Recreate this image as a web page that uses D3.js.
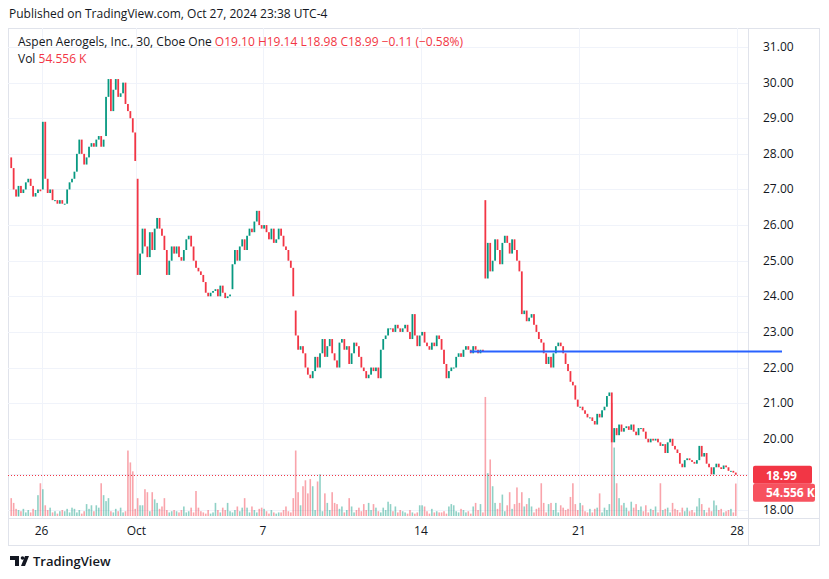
<!DOCTYPE html>
<html>
<head>
<meta charset="utf-8">
<script src="https://cdn.jsdelivr.net/npm/d3@7"></script>
<style>
  body { margin: 0; background: #fff; font-family: "Open Sans", "Noto Sans", sans-serif; }
</style>
</head>
<body>
<svg id="chart" width="829" height="579"></svg>
<script>
// trading days shown (30 min bars, 13 per day)
const days = ['09-25', '09-26', '09-27', '09-30', '10-01', '10-02', '10-03', '10-04', '10-07', '10-08', '10-09', '10-10',
    '10-11', '10-14', '10-15', '10-16', '10-17', '10-18', '10-21', '10-22', '10-23', '10-24', '10-25']

// opening price of each day's first bar (null = previous close)
const dayOpens = [27.9, 27.0, null, 28.5, 27.3, null, null, 24.2, null, 23.6, null, null,
    null, null, null, 26.7, null, null, null, 21.3, null, null, null]

// closing prices per day
const closes = [
    [27.6, 27.0, 26.8, 27.1, 26.9, 27.0, 27.2, 27.3, 27.1, 26.8, 26.9, 27.0, 26.95],
    [28.9, 27.3, 26.9, 27.0, 26.7, 26.7, 26.6, 26.7, 26.6, 26.6, 27.0, 27.2, 27.3],
    [27.5, 28.0, 28.4, 28.0, 27.7, 27.9, 28.2, 28.3, 28.2, 28.4, 28.5, 28.2, 28.4],
    [29.6, 30.1, 29.2, 29.8, 30.1, 29.6, 29.7, 30.0, 29.4, 29.2, 29.0, 28.6, 27.8],
    [24.6, 25.2, 25.9, 25.4, 25.1, 25.8, 25.3, 25.9, 26.2, 25.9, 25.7, 25.3, 24.6],
    [25.0, 25.4, 25.2, 25.4, 25.1, 25.0, 25.3, 25.6, 25.7, 25.4, 25.0, 24.8, 24.7],
    [24.6, 24.4, 24.1, 24.0, 24.1, 24.15, 24.2, 24.0, 24.3, 24.1, 23.95, 24.0, 24.05],
    [24.9, 25.3, 25.0, 25.4, 25.6, 25.3, 25.7, 25.9, 25.8, 26.1, 26.4, 26.0, 25.9],
    [26.0, 25.8, 25.6, 25.9, 25.5, 25.6, 25.9, 25.7, 25.4, 25.3, 25.0, 24.8, 24.0],
    [22.9, 22.5, 22.6, 22.4, 22.0, 21.8, 21.7, 21.9, 22.3, 22.0, 22.4, 22.8, 22.3],
    [22.6, 22.8, 22.4, 22.2, 22.0, 22.7, 22.8, 22.5, 22.6, 22.1, 22.4, 22.7, 22.6],
    [22.3, 22.0, 21.9, 21.7, 21.8, 22.0, 21.9, 22.0, 21.7, 22.5, 22.8, 22.9, 23.1],
    [23.1, 23.0, 23.2, 23.1, 23.0, 23.1, 23.2, 23.0, 22.8, 23.5, 22.9, 22.6, 22.9],
    [23.0, 22.7, 22.6, 22.5, 22.7, 22.6, 22.9, 22.8, 22.5, 22.1, 21.7, 21.9, 22.0],
    [22.0, 22.3, 22.4, 22.3, 22.5, 22.6, 22.5, 22.4, 22.6, 22.5, 22.4, 22.5, 22.45],
    [24.5, 25.5, 24.7, 25.0, 25.6, 25.3, 24.9, 25.5, 25.7, 25.5, 25.2, 25.6, 25.3],
    [25.0, 24.7, 23.5, 23.6, 23.3, 23.4, 23.5, 23.2, 23.0, 22.8, 22.7, 22.4, 22.1],
    [22.3, 22.0, 22.4, 22.6, 22.7, 22.6, 22.4, 22.1, 21.9, 21.6, 21.5, 21.1, 20.9],
    [20.9, 20.8, 20.7, 20.6, 20.6, 20.5, 20.4, 20.7, 20.6, 20.8, 20.9, 21.2, 21.3],
    [19.9, 20.3, 20.1, 20.4, 20.2, 20.3, 20.35, 20.25, 20.4, 20.2, 20.1, 20.3, 20.3],
    [20.2, 20.0, 19.9, 20.0, 19.95, 20.0, 19.9, 19.8, 19.85, 19.6, 19.9, 20.0, 19.8],
    [19.7, 19.6, 19.3, 19.2, 19.4, 19.45, 19.4, 19.35, 19.3, 19.4, 19.8, 19.5, 19.6],
    [19.3, 19.2, 19.0, 19.2, 19.3, 19.2, 19.15, 19.25, 19.2, 19.1, 19.1, 19.05, 18.99]
]

// volume per bar, thousands
const volumes = [
    [30, 22, 12, 10, 8, 12, 6, 10, 6, 12, 10, 35, 55],
    [45, 18, 10, 14, 6, 8, 4, 8, 10, 8, 12, 6, 14],
    [12, 6, 10, 4, 8, 20, 12, 18, 8, 18, 14, 55, 35],
    [25, 30, 8, 6, 12, 8, 14, 6, 8, 110, 90, 75, 12],
    [30, 18, 18, 45, 40, 8, 40, 28, 22, 12, 16, 30, 10],
    [6, 8, 10, 8, 6, 10, 16, 6, 8, 14, 6, 42, 14],
    [8, 6, 4, 10, 4, 6, 22, 10, 6, 14, 10, 22, 8],
    [6, 10, 16, 8, 14, 30, 14, 6, 16, 10, 6, 12, 14],
    [12, 8, 4, 10, 6, 4, 6, 6, 10, 16, 8, 6, 30],
    [110, 40, 18, 50, 60, 38, 62, 50, 10, 58, 70, 8, 38],
    [22, 10, 40, 22, 20, 12, 16, 6, 10, 30, 16, 6, 10],
    [14, 8, 20, 10, 22, 10, 20, 14, 8, 6, 14, 10, 24],
    [20, 8, 16, 6, 10, 8, 6, 4, 10, 6, 4, 6, 18],
    [18, 16, 8, 4, 12, 6, 8, 6, 6, 8, 4, 16, 20],
    [18, 8, 6, 12, 10, 6, 8, 4, 16, 22, 10, 20, 6],
    [200, 72, 95, 50, 22, 12, 22, 36, 8, 18, 40, 12, 20],
    [48, 22, 40, 16, 20, 30, 16, 6, 12, 14, 55, 22, 6],
    [20, 22, 10, 22, 6, 18, 14, 10, 12, 32, 55, 20, 10],
    [22, 18, 8, 6, 12, 6, 12, 14, 38, 6, 14, 10, 20],
    [190, 115, 55, 30, 18, 22, 14, 8, 24, 14, 20, 10, 16],
    [8, 18, 6, 12, 10, 16, 6, 55, 10, 12, 14, 6, 22],
    [12, 10, 6, 14, 8, 14, 8, 10, 6, 16, 30, 20, 10],
    [6, 14, 8, 26, 18, 10, 12, 6, 8, 10, 12, 6, 54.556]
]

const tickDays = [['09-26', '26'], ['10-01', 'Oct'], ['10-07', '7'], ['10-14', '14'], ['10-21', '21']]
const priceTicks = d3.range(18, 31.5, 1)
const hlinePrice = 22.45
const hlineStartDay = '10-15'

const svg = d3.select('#chart')
const plot = { left: 8, right: 748, top: 28, bottom: 518 }

const xDay = d3.scaleBand().domain(days).range([10, 737])
const yScale = d3.scaleLinear().domain([18, 31]).range([510, 47])
const yVol = d3.scaleLinear().domain([0, 210]).range([516, 391])

// flatten bars
const bars = []
days.forEach((d, i) => {
    closes[i].forEach((c, j) => {
        let open = bars.length ? bars[bars.length - 1].close : c
        if (j === 0 && dayOpens[i] !== null) open = dayOpens[i]
        bars.push({
            day: d, j, close: c, open, vol: volumes[i][j],
            x: xDay(d) + (j + 0.5) * xDay.bandwidth() / 13
        })
    })
})
const last = bars[bars.length - 1]

//frame
svg.append('rect').attr('x', 8.5).attr('y', 28.5).attr('width', 811).attr('height', 517)
    .attr('fill', 'none').attr('stroke', '#e0e3eb')

//grid
svg.append('g').selectAll('line').data(priceTicks).enter().append('line')
    .attr('x1', plot.left).attr('x2', plot.right)
    .attr('y1', (d) => Math.round(yScale(d)) + 0.5).attr('y2', (d) => Math.round(yScale(d)) + 0.5)
    .attr('stroke', '#f0f3fa')
const tickX = tickDays.map((t) => ({ x: xDay(t[0]), label: t[1] }))
tickX.push({ x: xDay.range()[1], label: '28' })
svg.append('g').selectAll('line').data(tickX).enter().append('line')
    .attr('x1', (d) => Math.round(d.x) + 0.5).attr('x2', (d) => Math.round(d.x) + 0.5)
    .attr('y1', plot.top).attr('y2', plot.bottom)
    .attr('stroke', '#f0f3fa')

//axis separators
svg.append('line').attr('x1', plot.right + 0.5).attr('x2', plot.right + 0.5).attr('y1', 28).attr('y2', 545).attr('stroke', '#e0e3eb')
svg.append('line').attr('x1', 8).attr('x2', 820).attr('y1', plot.bottom + 0.5).attr('y2', plot.bottom + 0.5).attr('stroke', '#e0e3eb')

//volume
svg.append('g').selectAll('rect').data(bars).enter().append('rect')
    .attr('x', (d) => d.x - 0.8).attr('width', 1.6)
    .attr('y', (d) => yVol(d.vol)).attr('height', (d) => yVol(0) - yVol(d.vol))
    .attr('fill', (d) => d.close >= d.open ? 'rgba(8,153,129,0.45)' : 'rgba(242,54,69,0.45)')

//candles
svg.append('g').selectAll('rect').data(bars).enter().append('rect')
    .attr('x', (d) => d.x - 0.9).attr('width', 1.8)
    .attr('y', (d) => yScale(Math.max(d.open, d.close)))
    .attr('height', (d) => Math.max(1, Math.abs(yScale(d.open) - yScale(d.close))))
    .attr('fill', (d) => d.close >= d.open ? '#089981' : '#f23645')

//horizontal line
svg.append('line').attr('x1', xDay(hlineStartDay) + xDay.bandwidth() * 0.55).attr('x2', 782)
    .attr('y1', yScale(hlinePrice)).attr('y2', yScale(hlinePrice))
    .attr('stroke', '#2962ff').attr('stroke-width', 2)

//last price dotted line
svg.append('line').attr('x1', plot.left).attr('x2', plot.right)
    .attr('y1', Math.round(yScale(last.close)) + 0.5).attr('y2', Math.round(yScale(last.close)) + 0.5)
    .attr('stroke', '#f23645').attr('stroke-dasharray', '1,2')

//price axis (ticks hidden behind the price tags are skipped)
svg.append('g').selectAll('text').data(priceTicks.filter((d) => Math.abs(d - last.close) > 0.6)).enter().append('text')
    .attr('x', 763).attr('y', (d) => yScale(d) + 4)
    .style('font-size', '12px').attr('fill', '#131722')
    .text((d) => d.toFixed(2))

//price tags
svg.append('rect').attr('x', 753).attr('y', yScale(last.close) - 9).attr('width', 59).attr('height', 18).attr('rx', 2).attr('fill', '#f23645')
svg.append('text').attr('x', 766).attr('y', yScale(last.close) + 5).attr('fill', '#fff')
    .style('font-size', '12px').style('font-weight', 'bold').text(last.close.toFixed(2))
svg.append('rect').attr('x', 753).attr('y', yScale(last.close) + 9).attr('width', 62).attr('height', 18).attr('rx', 2).attr('fill', '#f7525f')
svg.append('text').attr('x', 766).attr('y', yScale(last.close) + 22).attr('fill', '#fff')
    .style('font-size', '12px').style('font-weight', 'bold').text('54.556 K')

//time axis
svg.append('g').selectAll('text').data(tickX).enter().append('text')
    .attr('x', (d) => d.x).attr('y', 535).attr('text-anchor', 'middle')
    .style('font-size', '12px').attr('fill', '#131722').text((d) => d.label)

//header and legend
svg.append('text').attr('x', 9).attr('y', 18).style('font-size', '12px').attr('fill', '#131722')
    .text('Published on TradingView.com, Oct 27, 2024 23:38 UTC-4')
const legend = svg.append('text').attr('x', 18).attr('y', 46).style('font-size', '12px')
legend.append('tspan').attr('fill', '#131722').text('Aspen Aerogels, Inc., 30, Cboe One  ')
legend.append('tspan').attr('fill', '#f23645').text('O19.10  H19.14  L18.98  C18.99  −0.11 (−0.58%)')
const vol = svg.append('text').attr('x', 18).attr('y', 63).style('font-size', '12px')
vol.append('tspan').attr('fill', '#131722').text('Vol  ')
vol.append('tspan').attr('fill', '#f23645').text('54.556 K')

//footer
svg.append('path').attr('d', 'M10 556h9v10h-4v-6h-5z M21 566l4-10h4l-4 10z').attr('fill', '#131722')
svg.append('circle').attr('cx', 22.5).attr('cy', 558).attr('r', 1.8).attr('fill', '#131722')
svg.append('text').attr('x', 33).attr('y', 566).style('font-size', '13px').style('font-weight', '600')
    .attr('fill', '#131722').text('TradingView')
</script>
</body>
</html>
